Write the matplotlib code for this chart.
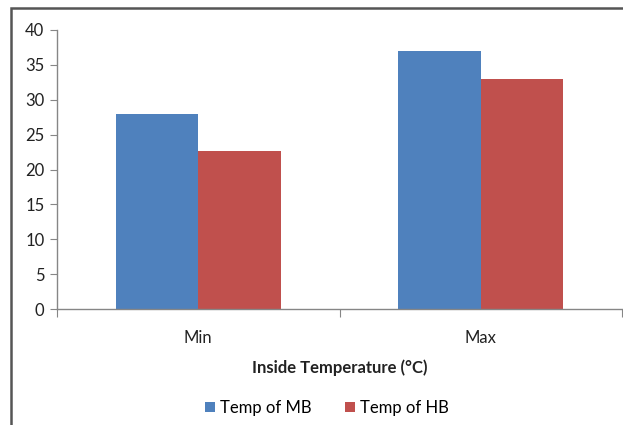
import matplotlib
matplotlib.use("Agg")
import matplotlib.pyplot as plt
import numpy as np
from matplotlib.patches import Rectangle

categories = ["Min", "Max"]
temp_mb = [28, 37]
temp_hb = [22.6, 33]
series_labels = ["Temp of MB", "Temp of HB"]
y_ticks = [0, 5, 10, 15, 20, 25, 30, 35, 40]

BLUE = "#4F81BD"
RED = "#C0504D"
AXIS_GRAY = "#868686"
TEXT = "#222222"

plt.rcParams["font.family"] = ["Lato", "DejaVu Sans"]

fig = plt.figure(figsize=(6.23, 4.25), dpi=100)
ax = fig.add_axes([57 / 623, 116 / 425, 565 / 623, 279 / 425])

x = np.arange(len(categories))
width = 0.292
ax.bar(x - width / 2, temp_mb, width, color=BLUE, label=series_labels[0])
ax.bar(x + width / 2, temp_hb, width, color=RED, label=series_labels[1])

ax.set_xlim(-0.5, len(categories) - 0.5)
ax.set_ylim(0, 40)
ax.set_yticks(y_ticks)
ax.tick_params(axis="y", direction="out", length=5, width=0.8, color=AXIS_GRAY,
               labelsize=12, pad=4, labelcolor=TEXT)

# category labels centred, tick marks at category boundaries
ax.set_xticks(x)
ax.set_xticklabels(categories, fontsize=12, color=TEXT)
ax.tick_params(axis="x", length=0, pad=15)
ax.set_xticks(np.arange(len(categories) + 1) - 0.5, minor=True)
ax.tick_params(axis="x", which="minor", direction="out", length=6, width=0.8,
               color=AXIS_GRAY)

for side in ("top", "right"):
    ax.spines[side].set_visible(False)
for side in ("left", "bottom"):
    ax.spines[side].set_color(AXIS_GRAY)
    ax.spines[side].set_linewidth(1.0)

ax.set_xlabel("Inside Temperature (°C)", fontsize=12, fontweight="bold",
              color=TEXT, labelpad=10)

fig.legend(loc="center", bbox_to_anchor=(327 / 623, 1 - 408 / 425), ncol=2,
           frameon=False, fontsize=12, handlelength=0.6, handleheight=0.6,
           handletextpad=0.3, columnspacing=2.0)

# outer chart frame (clipped at right and bottom)
fig.patches.append(Rectangle((11 / 623, -0.1), 1.2, 1 - 8 / 425 + 0.1,
                             transform=fig.transFigure, fill=False,
                             edgecolor="#555555", linewidth=1.8))

fig.savefig("out.png", dpi=100)
